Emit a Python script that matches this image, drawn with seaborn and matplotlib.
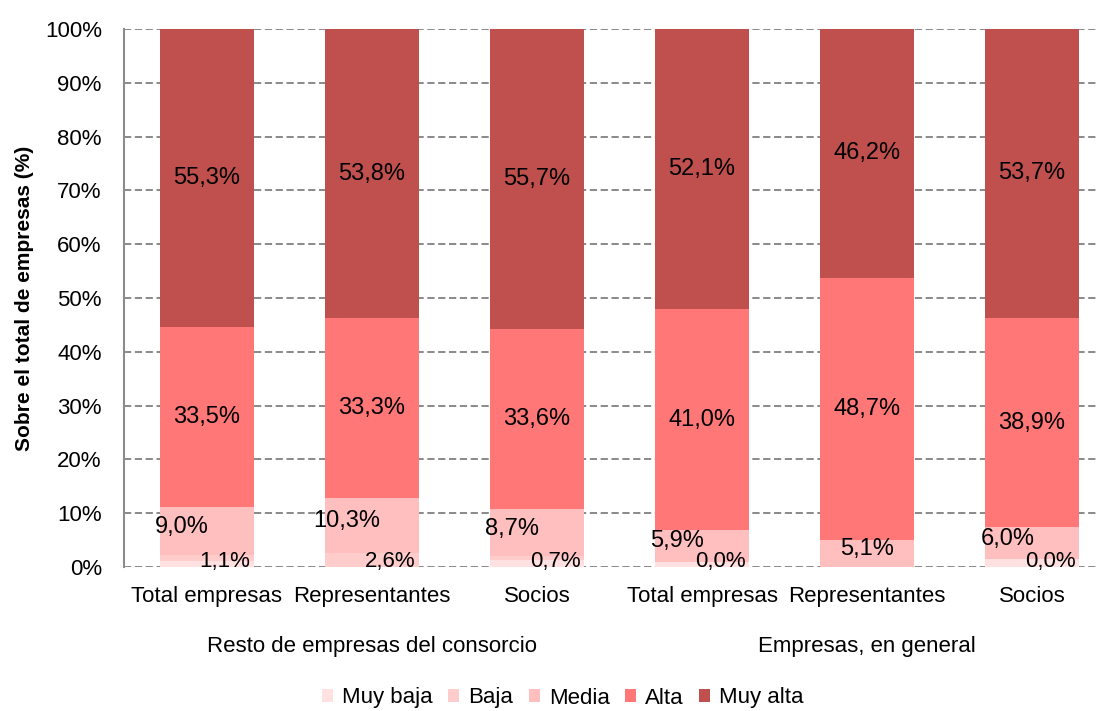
import pandas as pd
import matplotlib.pyplot as plt
import seaborn as sns
from matplotlib.patches import Patch

categories = ['Total empresas', 'Representantes', 'Socios',
              'Total empresas', 'Representantes', 'Socios']
groups = ['Resto de empresas del consorcio', 'Empresas, en general']
levels = ['Muy baja', 'Baja', 'Media', 'Alta', 'Muy alta']

muy_baja = [1.1, 0.0, 1.3, 1.0, 0.0, 1.4]
baja = [1.1, 2.6, 0.7, 0.0, 0.0, 0.0]
media = [9.0, 10.3, 8.7, 5.9, 5.1, 6.0]
alta = [33.5, 33.3, 33.6, 41.0, 48.7, 38.9]
muy_alta = [55.3, 53.8, 55.7, 52.1, 46.2, 53.7]

colors = ['#FFE1E1', '#FFCCCC', '#FFBFBF', '#FF7777', '#C0504D']

sns.set_style('white')
plt.rcParams['font.family'] = ['Liberation Sans', 'DejaVu Sans']
plt.rcParams['text.color'] = 'black'
plt.rcParams['xtick.color'] = 'black'
plt.rcParams['ytick.color'] = 'black'
plt.rcParams['axes.labelcolor'] = 'black'

df = pd.DataFrame({'pos': range(6), 'Muy baja': muy_baja, 'Baja': baja,
                   'Media': media, 'Alta': alta, 'Muy alta': muy_alta})
series = [df[l] for l in levels]
cum = []
total = 0
for s in series:
    total = total + s
    cum.append(total.copy())

fig = plt.figure(figsize=(10.99, 7.11), dpi=100)
ax = fig.add_axes([124 / 1099, 1 - 567 / 711, 1 - 124 / 1099, (567 - 29) / 711])

# stacked bars: draw cumulative totals from top layer down
for i in range(len(levels) - 1, -1, -1):
    sns.barplot(x=df['pos'], y=cum[i], color=colors[i], width=0.57,
                saturation=1, native_scale=True, ax=ax, zorder=2,
                edgecolor='none', linewidth=0)

fs = 16
ax.set_xlim(-0.503, 5.406)
ax.set_ylim(0, 100)
ax.set_yticks(range(0, 101, 10))
ax.set_yticklabels([f'{v}%' for v in range(0, 101, 10)], fontsize=fs)
ax.set_xticks(range(6))
ax.set_xticklabels(categories, fontsize=fs)
ax.tick_params(axis='both', length=0)
ax.tick_params(axis='y', pad=16)
ax.tick_params(axis='x', pad=14)
ax.yaxis.grid(True, color='#808080', linestyle=(0, (4, 2)), linewidth=1.3, zorder=0)
ax.set_axisbelow(True)
for sp in ['top', 'right', 'bottom']:
    ax.spines[sp].set_visible(False)
ax.spines['left'].set_color('#8c8c8c')
ax.spines['left'].set_linewidth(1.5)
ax.set_xlabel('')
ax.set_ylabel('Sobre el total de empresas (%)', fontsize=15, fontweight='bold',
              labelpad=8)

def fmt(v):
    return f'{v:.1f}%'.replace('.', ',')

for j in range(6):
    ax.text(j, cum[3][j] + muy_alta[j] / 2, fmt(muy_alta[j]), ha='center',
            va='center', fontsize=fs + 1, zorder=5)
    ax.text(j, cum[2][j] + alta[j] / 2, fmt(alta[j]), ha='center',
            va='center', fontsize=fs + 1, zorder=5)
    if j == 4:
        ax.text(j, cum[1][j] + media[j] / 2 + 0.8, fmt(media[j]), ha='center',
                va='center', fontsize=fs + 1, zorder=5)
    else:
        ax.text(j - 0.15, cum[1][j] + media[j] / 2 + 0.8, fmt(media[j]),
                ha='center', va='center', fontsize=fs + 1, zorder=5)
        ax.text(j + 0.11, 1.0, fmt(baja[j]), ha='center', va='center',
                fontsize=fs, zorder=5)

ax.text(1, -14.8, groups[0], ha='center', va='center', fontsize=fs)
ax.text(4, -14.8, groups[1], ha='center', va='center', fontsize=fs)

handles = [Patch(facecolor=c, edgecolor='none') for c in colors]
fig.legend(handles, levels, loc='center', bbox_to_anchor=(563 / 1099, 1 - 698 / 711),
           ncol=5, frameon=False, fontsize=fs, handlelength=0.5, handleheight=0.5,
           handletextpad=0.4, columnspacing=0.7)

fig.savefig('out.png', dpi=100)
